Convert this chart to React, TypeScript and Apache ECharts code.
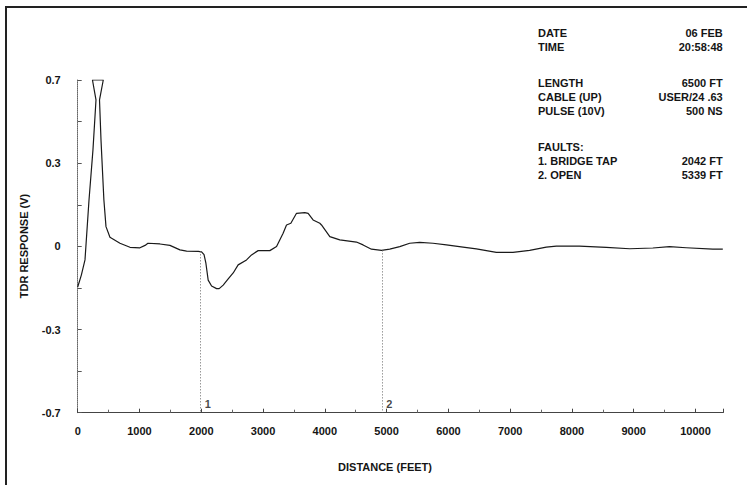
import React, { useEffect, useRef } from "react";
import * as echarts from "echarts";

// Trace of the TDR response (distance in feet, response in the display's volts)
const distanceFt = [
  0, 60, 118, 183, 247, 296, 239, 414, 353, 377, 424, 458, 522, 684, 846, 1008, 1090, 1137, 1331, 1493,
  1655, 1763, 1951, 2005, 2045, 2075, 2112, 2167, 2248, 2290, 2355, 2436, 2517, 2597, 2733, 2814, 2921,
  3110, 3219, 3325, 3380, 3450, 3542, 3676, 3730, 3810, 3919, 3946, 4081, 4242, 4512, 4619, 4755,
  4917, 5051, 5213, 5374, 5536, 5751, 5968, 6237, 6453, 6777, 7045, 7315, 7585, 7747, 8119, 8556,
  8935, 9309, 9579, 9849, 10280, 10442,
];
const responseV = [
  -0.171, -0.12, -0.057, 0.195, 0.406, 0.616, 0.7, 0.7, 0.616, 0.448, 0.195, 0.083, 0.038, 0.013, -0.004,
  -0.006, 0.004, 0.013, 0.01, 0.004, -0.015, -0.02, -0.021, -0.023, -0.035, -0.071, -0.142, -0.167, -0.178,
  -0.178, -0.163, -0.137, -0.112, -0.078, -0.057, -0.036, -0.018, -0.018, -0.001, 0.055, 0.09, 0.097,
  0.139, 0.142, 0.139, 0.111, 0.097, 0.09, 0.041, 0.027, 0.018, 0.006, -0.012, -0.017, -0.012, -0.001,
  0.013, 0.017, 0.013, 0.006, -0.003, -0.011, -0.025, -0.025, -0.017, -0.003, 0.001, 0.001, -0.004,
  -0.01, -0.007, -0.001, -0.006, -0.012, -0.012,
];

// Cursor markers
const markerNames = ["1", "2"];
const markerDistances = [1990, 4930];
const markerLevels = [-0.021, -0.017];

// Y tick labels (display labels at the evenly spaced major ticks)
const yLabelTicks = [-0.7, -0.35, 0, 0.35, 0.7];
const yTickLabels = ["-0.7", "-0.3", "0", "0.3", "0.7"];

// Info block
const infoLabels = ["DATE", "TIME", "LENGTH", "CABLE (UP)", "PULSE (10V)", "FAULTS:", "1. BRIDGE TAP", "2. OPEN"];
const infoValues = ["06 FEB", "20:58:48", "6500 FT", "USER/24 .63", "500 NS", "", "2042 FT", "5339 FT"];
const infoGroups = [0, 0, 1, 1, 1, 2, 2, 2];

const FONT = "'Liberation Sans', Arial, Helvetica, sans-serif";
const INK = "#151515";

export default function App() {
  const ref = useRef<HTMLDivElement>(null);

  useEffect(() => {
    if (!ref.current) return;
    const chart = echarts.init(ref.current, undefined, { renderer: "svg" });

    const trace = distanceFt.map((d, i) => [d, responseV[i]]);

    const graphics: any[] = [
      {
        type: "rect",
        shape: { x: 6, y: 7, width: 780, height: 520 },
        style: { fill: "none", stroke: "#222", lineWidth: 2 },
        silent: true,
      },
      {
        type: "text",
        x: 24,
        y: 246,
        rotation: Math.PI / 2,
        style: {
          text: "TDR RESPONSE (V)",
          font: `bold 11px ${FONT}`,
          fill: INK,
          align: "center",
          verticalAlign: "middle",
        },
      },
      {
        type: "text",
        x: 385,
        y: 467,
        style: {
          text: "DISTANCE (FEET)",
          font: `bold 11px ${FONT}`,
          fill: INK,
          align: "center",
          verticalAlign: "middle",
        },
      },
    ];
    infoLabels.forEach((lab, i) => {
      const y = 33.3 + i * 14 + infoGroups[i] * 22;
      graphics.push({
        type: "text",
        x: 538,
        y,
        style: { text: lab, font: `bold 11px ${FONT}`, fill: INK, align: "left", verticalAlign: "middle" },
      });
      if (infoValues[i]) {
        graphics.push({
          type: "text",
          x: 722.7,
          y,
          style: { text: infoValues[i], font: `bold 11px ${FONT}`, fill: INK, align: "right", verticalAlign: "middle" },
        });
      }
    });

    chart.setOption({
      animation: false,
      backgroundColor: "#ffffff",
      grid: { left: 77.7, right: 23.7, top: 80, bottom: 72.3, containLabel: false },
      xAxis: {
        type: "value",
        min: 0,
        max: 10450,
        interval: 1000,
        axisLine: { show: true, onZero: false, lineStyle: { color: "#444", width: 1 } },
        axisTick: { show: true, inside: true, length: 4, lineStyle: { color: "#444" } },
        minorTick: { show: true, splitNumber: 2, length: 3, lineStyle: { color: "#666" } },
        splitLine: { show: false },
        axisLabel: {
          margin: 13,
          showMaxLabel: false,
          color: INK,
          fontFamily: FONT,
          fontWeight: "bold",
          fontSize: 11,
          formatter: (v: number) => String(Math.round(v)),
        },
      },
      yAxis: {
        type: "value",
        min: -0.7,
        max: 0.7,
        interval: 0.175,
        axisLine: { show: true, onZero: false, lineStyle: { color: "#666", width: 1, type: [1, 1] } },
        axisTick: { show: true, inside: true, length: 4, lineStyle: { color: "#555" } },
        splitLine: { show: false },
        axisLabel: {
          margin: 17,
          color: INK,
          fontFamily: FONT,
          fontWeight: "bold",
          fontSize: 11,
          formatter: (v: number) => {
            const idx = yLabelTicks.findIndex((t) => Math.abs(t - v) < 1e-6);
            return idx >= 0 ? yTickLabels[idx] : "";
          },
        },
      },
      series: [
        {
          type: "line",
          name: "TDR response",
          data: trace,
          showSymbol: false,
          smooth: false,
          lineStyle: { color: "#1a1a1a", width: 1.2, join: "round" },
          markLine: {
            silent: true,
            symbol: ["none", "none"],
            label: { show: false },
            lineStyle: { color: "#666", width: 1, type: [1, 2] },
            data: markerDistances.map((d, i) => [
              { coord: [d, markerLevels[i]] },
              { coord: [d, -0.7] },
            ]),
          },
        },
        {
          type: "scatter",
          name: "markers",
          symbolSize: 0,
          data: markerDistances.map((d, i) => ({ value: [d, -0.7], name: markerNames[i] })),
          label: {
            show: true,
            position: "right",
            distance: 4,
            offset: [0, -9],
            formatter: (p: any) => p.name,
            color: INK,
            fontFamily: FONT,
            fontWeight: "bold",
            fontSize: 11,
          },
        },
      ],
      graphic: graphics,
    });

    return () => chart.dispose();
  }, []);

  return (
    <div
      ref={ref}
      style={{ position: "fixed", left: 0, top: 0, width: 747, height: 485, background: "#fff" }}
    />
  );
}
